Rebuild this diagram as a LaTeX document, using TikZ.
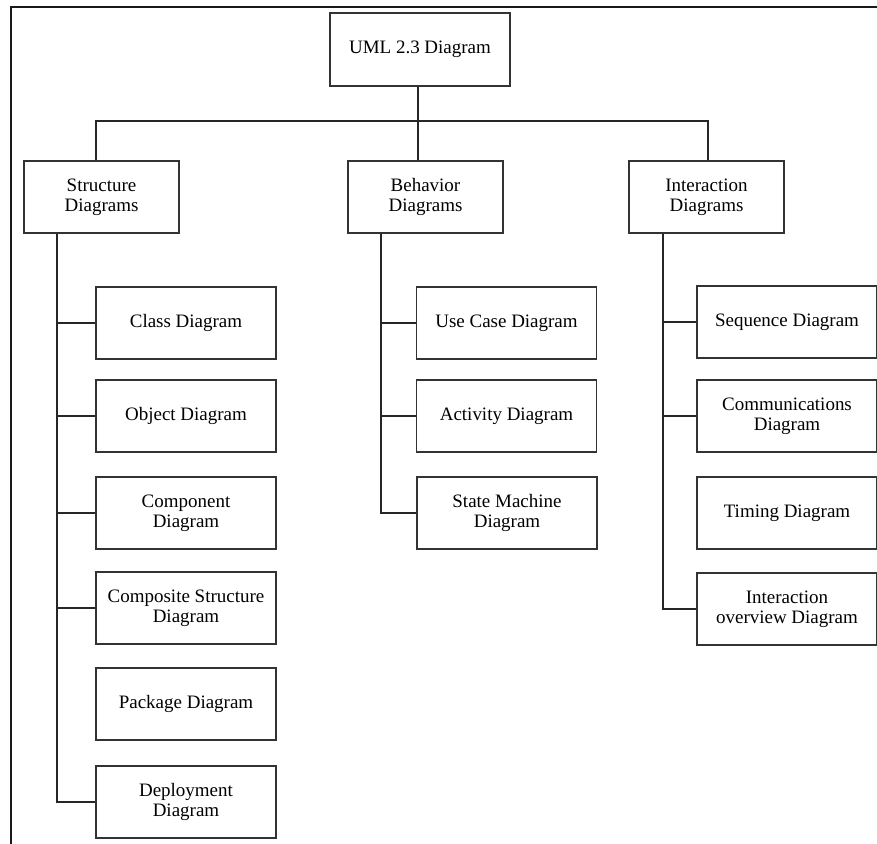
\documentclass[tikz,border=0pt]{standalone}
\usepackage{fontspec}
\setmainfont{Liberation Serif}
\usetikzlibrary{positioning}

\tikzset{
	diabox/.style={draw=black!80, line width=1pt, fill=white, align=center,
		minimum width=4.5cm, minimum height=1.8cm, inner sep=1pt,
		font=\fontsize{13.5}{14.5}\selectfont},
	headbox/.style={diabox, minimum width=3.875cm},
	link/.style={draw=black!85, line width=1pt}
}

\begin{document}
\begin{tikzpicture}[x=0.025cm, y=-0.025cm]
	%page and outer frame (right and bottom edges fall outside)
	\clip (0,0) rectangle (877,844);
	\fill[white] (0,0) rectangle (877,844);
	\draw[line width=1.3pt, black!90] (11,7) rectangle (900,900);

	%root and the three groups
	\node[diabox, minimum height=1.825cm] (uml) at (420,49.5) {UML 2.3 Diagram};
	\node[headbox] (struct) at (101.5,197) {Structure\\Diagrams};
	\node[headbox] (behav) at (425.5,197) {Behavior\\Diagrams};
	\node[headbox] (inter) at (706.5,197) {Interaction\\Diagrams};

	%bus between root and groups
	\coordinate (busS) at (96,121);
	\coordinate (busB) at (418,121);
	\coordinate (busI) at (708,121);
	\draw[link] (busS |- struct.north) -- (busS) -- (busI) -- (busI |- inter.north);
	\draw[link] (busB |- uml.south) -- (busB |- behav.north);

	%structure diagrams
	\node[diabox] (class) at (186,323) {Class Diagram};
	\node[diabox] (object) at (186,416) {Object Diagram};
	\node[diabox] (component) at (186,513) {Component\\Diagram};
	\node[diabox] (composite) at (186,608) {Composite Structure\\Diagram};
	\node[diabox] (package) at (186,704) {Package Diagram};
	\node[diabox] (deploy) at (186,802) {Deployment\\Diagram};
	\coordinate (trunkS) at (57,0);
	\draw[link] (trunkS |- struct.south) |- (deploy.west);
	\draw[link] (trunkS |- class.west) -- (class.west);
	\draw[link] (trunkS |- object.west) -- (object.west);
	\draw[link] (trunkS |- component.west) -- (component.west);
	\draw[link] (trunkS |- composite.west) -- (composite.west);

	%behavior diagrams
	\node[diabox] (usecase) at (506.5,323) {Use Case Diagram};
	\node[diabox] (activity) at (506.5,416) {Activity Diagram};
	\node[diabox] (statemach) at (507,513) {State Machine\\Diagram};
	\coordinate (trunkB) at (381,0);
	\draw[link] (trunkB |- behav.south) |- (statemach.west);
	\draw[link] (trunkB |- usecase.west) -- (usecase.west);
	\draw[link] (trunkB |- activity.west) -- (activity.west);

	%interaction diagrams
	\node[diabox] (sequence) at (787,322) {Sequence Diagram};
	\node[diabox] (commun) at (787,416) {Communications\\Diagram};
	\node[diabox] (timing) at (787,513) {Timing Diagram};
	\node[diabox] (overview) at (787,609) {Interaction\\overview Diagram};
	\coordinate (trunkI) at (663,0);
	\draw[link] (trunkI |- inter.south) |- (overview.west);
	\draw[link] (trunkI |- sequence.west) -- (sequence.west);
	\draw[link] (trunkI |- commun.west) -- (commun.west);
\end{tikzpicture}
\end{document}
